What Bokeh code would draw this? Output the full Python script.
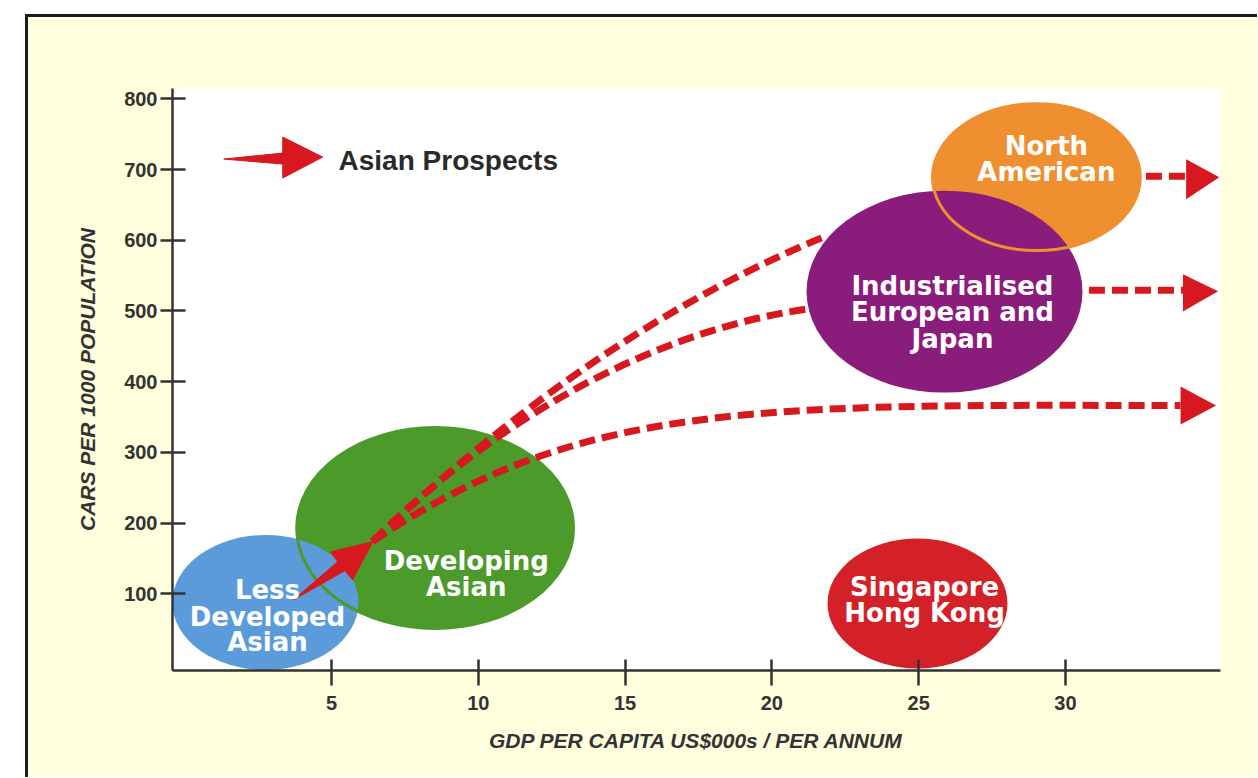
from bokeh.plotting import figure
from bokeh.models import FixedTicker, GlobalInlineStyleSheet
from bokeh.core.properties import value
from bokeh.embed import file_html
from bokeh.resources import INLINE

# ---------------- data ----------------
x_ticks = [5, 10, 15, 20, 25, 30]
y_ticks = [100, 200, 300, 400, 500, 600, 700, 800]

# regions: GDP centre, cars centre, GDP spread, cars spread
region_names = ["Less Developed Asian", "Developing Asian",
                "Industrialised European and Japan", "North American",
                "Singapore Hong Kong"]
region_gdp = [2.75, 8.53, 25.88, 29.01, 24.96]
region_cars = [87.7, 193.0, 527.4, 689.3, 86.3]
region_gdp_span = [6.34, 9.43, 9.40, 7.08, 6.13]
region_cars_span = [190.9, 284.2, 285.6, 207.9, 183.8]
region_colors = ["#5B9BD9", "#4C9A2A", "#8A1C7C", "#EF8F2F", "#D42027"]

# region label lines
label_lines = ["Less", "Developed", "Asian", "Developing", "Asian",
               "Industrialised", "European and", "Japan",
               "North", "American", "Singapore", "Hong Kong"]
label_x = [2.82, 2.82, 2.82, 9.59, 9.59, 26.15, 26.15, 26.15,
           29.35, 29.35, 25.20, 25.20]
label_y = [106.0, 67.0, 31.5, 147.0, 109.0, 536.0, 498.0, 460.0,
           734.0, 696.0, 109.0, 73.5]

# prospect trajectories (cubic curves): start, control 1, control 2, end
path_x0 = [6.40, 6.40, 6.40]
path_y0 = [173.9, 173.9, 173.9]
path_cx0 = [11.51, 11.10, 13.48]
path_cy0 = [374.7, 366.2, 373.3]
path_cx1 = [16.62, 16.55, 19.61]
path_cy1 = [517.5, 479.4, 367.6]
path_x1 = [21.90, 21.60, 33.92]
path_y1 = [607.0, 505.0, 366.2]

# continuing dashed trends on the right
trend_x0 = [32.74, 30.80]
trend_x1 = [34.11, 34.00]
trend_y = [690.7, 529.2]

# arrow heads on the right: base x, base top, base bottom, tip x, tip y
head_base_x = [34.11, 34.00, 33.92]
head_top = [714.7, 551.8, 393.2]
head_bottom = [658.1, 499.4, 339.4]
head_tip_x = [35.24, 35.20, 35.13]
head_tip_y = [689.3, 527.8, 366.3]

# big growth arrow from Less Developed to Developing Asian
growth_x = [3.71, 5.21, 4.97, 6.41, 5.72, 5.45]
growth_y = [91.5, 145.3, 159.5, 173.7, 119.8, 132.6]

# legend arrow
legend_arrow_x = [1.33, 3.34, 3.34, 4.70, 3.34, 3.34]
legend_arrow_y = [714.9, 723.4, 746.0, 717.7, 688.0, 707.8]
legend_text_x = [5.24]
legend_text_y = [712.5]
legend_text = ["Asian Prospects"]

RED = "#D7191F"
CREAM = "#FFFEDD"
AXIS = "#333333"

p = figure(width=1232, height=763, output_backend="svg", toolbar_location=None,
           x_range=(-0.415, 35.28), y_range=(-8.5, 814.7),
           min_border_left=144, min_border_right=40,
           min_border_top=71, min_border_bottom=110)
p.margin = (14, 0, 0, 25)
p.styles = {"border-left": "3px solid #1a1a1a", "border-top": "3px solid #1a1a1a"}
p.stylesheets = [GlobalInlineStyleSheet(css="html, body { overflow: hidden; }")]

p.background_fill_color = "white"
p.border_fill_color = CREAM
p.outline_line_color = None
p.xgrid.visible = False
p.ygrid.visible = False

for ax in (p.xaxis, p.yaxis):
    ax.axis_line_color = AXIS
    ax.axis_line_width = 2.5
    ax.major_tick_line_color = AXIS
    ax.major_tick_line_width = 2.5
    ax.minor_tick_line_color = None
    ax.major_label_text_font = "Liberation Sans"
    ax.major_label_text_font_style = "bold"
    ax.major_label_text_font_size = "20px"
    ax.major_label_text_color = AXIS
    ax.axis_label_text_font = "Liberation Sans"
    ax.axis_label_text_font_style = "bold italic"
    ax.axis_label_text_font_size = "21px"
    ax.axis_label_text_color = AXIS

p.xaxis.ticker = FixedTicker(ticks=x_ticks)
p.yaxis.ticker = FixedTicker(ticks=y_ticks)
p.xaxis.major_tick_in = 11
p.xaxis.major_tick_out = 15
p.yaxis.major_tick_in = 13
p.yaxis.major_tick_out = 12
p.xaxis.major_label_standoff = 10
p.yaxis.major_label_standoff = 3
p.xaxis.axis_label = "GDP PER CAPITA US$000s / PER ANNUM"
p.yaxis.axis_label = "CARS PER 1000 POPULATION"
p.xaxis.axis_label_standoff = 16
p.yaxis.axis_label_standoff = 22


def blob(i, fill=True, width=0):
    if fill:
        p.ellipse(x=[region_gdp[i]], y=[region_cars[i]],
                  width=[region_gdp_span[i]], height=[region_cars_span[i]],
                  fill_color=region_colors[i], line_color=None)
    else:
        p.ellipse(x=[region_gdp[i]], y=[region_cars[i]],
                  width=[region_gdp_span[i]], height=[region_cars_span[i]],
                  fill_color=None, line_color=region_colors[i], line_width=width)


# Developing, then Less Developed on top, with Developing's rim showing
blob(1)
blob(0)
blob(1, fill=False, width=3)

# trajectories
p.bezier(x0=path_x0, y0=path_y0, x1=path_x1, y1=path_y1,
         cx0=path_cx0, cy0=path_cy0, cx1=path_cx1, cy1=path_cy1,
         line_color=RED, line_width=7, line_dash="16 7")

# growth arrow
p.patch(growth_x, growth_y, fill_color=RED, line_color=RED, line_width=1)

# North American, Industrialised on top, with North American's rim showing
blob(3)
blob(2)
blob(3, fill=False, width=3)
blob(4)

# right trends
p.segment(x0=trend_x0, y0=trend_y, x1=trend_x1, y1=trend_y,
          line_color=RED, line_width=7, line_dash="16 7")
p.patches(xs=[[head_base_x[i], head_base_x[i], head_tip_x[i]] for i in range(3)],
          ys=[[head_top[i], head_bottom[i], head_tip_y[i]] for i in range(3)],
          fill_color=RED, line_color=None)

# region labels
p.text(x=label_x, y=label_y, text=label_lines, text_color="white",
       text_font=value("DejaVu Sans"), text_font_style="bold",
       text_font_size="26px", text_align="center", text_baseline="alphabetic")

# legend
p.patch(legend_arrow_x, legend_arrow_y, fill_color=RED, line_color=RED, line_width=1)
p.text(x=legend_text_x, y=legend_text_y, text=legend_text, text_color="#2a2a2a",
       text_font=value("Liberation Sans"), text_font_style="bold",
       text_font_size="28px", text_align="left", text_baseline="alphabetic")

open("out.html", "w").write(file_html(p, INLINE))
